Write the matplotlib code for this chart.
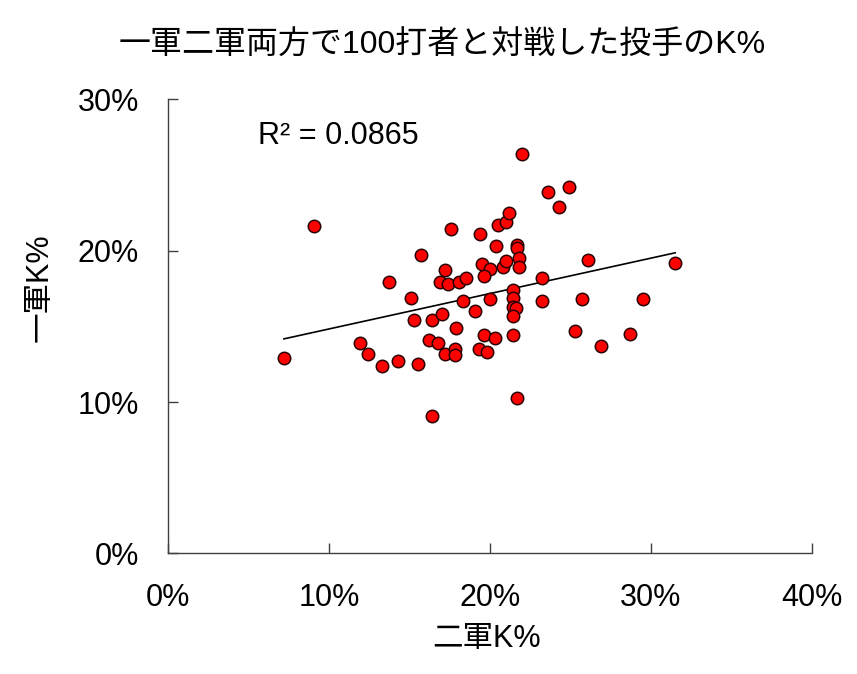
import matplotlib
matplotlib.use('Agg')
import matplotlib.pyplot as plt
import numpy as np
from matplotlib.ticker import PercentFormatter

# 二軍K% / 一軍K% (percent)
farm_k = [7.2, 9.1, 11.9, 12.4, 13.3, 14.3, 15.5, 13.7, 15.1, 15.3,
          15.7, 16.4, 16.4, 16.2, 16.8, 17.2, 17.8, 17.8, 17.0, 16.9,
          17.4, 17.2, 17.6, 18.1, 18.5, 17.9, 18.3, 19.1, 19.6, 20.3,
          19.3, 19.8, 20.0, 19.4, 19.5, 20.0, 19.6, 20.4, 20.5, 21.0,
          21.2, 20.8, 21.0, 21.7, 21.7, 21.8, 21.8, 21.4, 21.4, 21.4,
          21.6, 21.4, 21.4, 21.7, 22.0, 23.2, 23.2, 23.6, 24.9, 24.3,
          25.3, 25.7, 26.1, 26.9, 28.7, 29.5, 31.5]
top_k = [12.9, 21.6, 13.9, 13.2, 12.4, 12.7, 12.5, 17.9, 16.9, 15.4,
         19.7, 15.4, 9.1, 14.1, 13.9, 13.2, 13.5, 13.1, 15.8, 17.9,
         17.8, 18.7, 21.4, 17.9, 18.2, 14.9, 16.7, 16.0, 14.4, 14.2,
         13.5, 13.3, 16.8, 21.1, 19.1, 18.8, 18.3, 20.3, 21.7, 21.9,
         22.5, 18.9, 19.3, 20.4, 20.2, 19.5, 18.9, 17.4, 16.9, 16.3,
         16.2, 15.7, 14.4, 10.3, 26.4, 18.2, 16.7, 23.9, 24.2, 22.9,
         14.7, 16.8, 19.4, 13.7, 14.5, 16.8, 19.2]

title = '一軍二軍両方で100打者と対戦した投手のK%'
x_label = '二軍K%'
y_label = '一軍K%'
r2_text = 'R² = 0.0865'

fonts = ['Liberation Sans', 'Noto Sans CJK JP']
plt.rcParams['font.family'] = fonts

x = np.array(farm_k)
y = np.array(top_k)

fig = plt.figure(figsize=(8.57, 6.74), dpi=100)
ax = fig.add_axes([0.196, 0.1788, 0.7515, 0.6739])

ax.scatter(x, y, s=80, color='#ff0000', edgecolors='#2a0000',
           linewidths=1.1, zorder=3)

# linear trendline over the data range
slope, intercept = np.polyfit(x, y, 1)
xs = np.array([x.min(), x.max()])
ax.plot(xs, slope * xs + intercept, color='black', lw=1.2, zorder=2)

ax.text(5.6, 27.6, r2_text, fontsize=22, ha='left', va='center')

ax.set_xlim(0, 40)
ax.set_ylim(0, 30)
ax.set_xticks([0, 10, 20, 30, 40])
ax.set_yticks([0, 10, 20, 30])
ax.xaxis.set_major_formatter(PercentFormatter(decimals=0))
ax.yaxis.set_major_formatter(PercentFormatter(decimals=0))

for side in ['top', 'right']:
    ax.spines[side].set_visible(False)
for side in ['left', 'bottom']:
    ax.spines[side].set_color('#404040')
    ax.spines[side].set_linewidth(1.0)

ax.tick_params(axis='x', direction='in', length=7, width=1.0,
               color='#404040', labelsize=22, pad=21)
ax.tick_params(axis='y', direction='in', length=7, width=1.0,
               color='#404040', labelsize=22, pad=21)

ax.set_xlabel(x_label, fontsize=22)
ax.set_ylabel(y_label, fontsize=22)
ax.xaxis.set_label_coords(0.495, -0.155)
ax.yaxis.set_label_coords(-0.176, 0.585)

fig.text(0.516, 0.932, title, fontsize=23, ha='center', va='center')

fig.savefig('out.png', dpi=100)
